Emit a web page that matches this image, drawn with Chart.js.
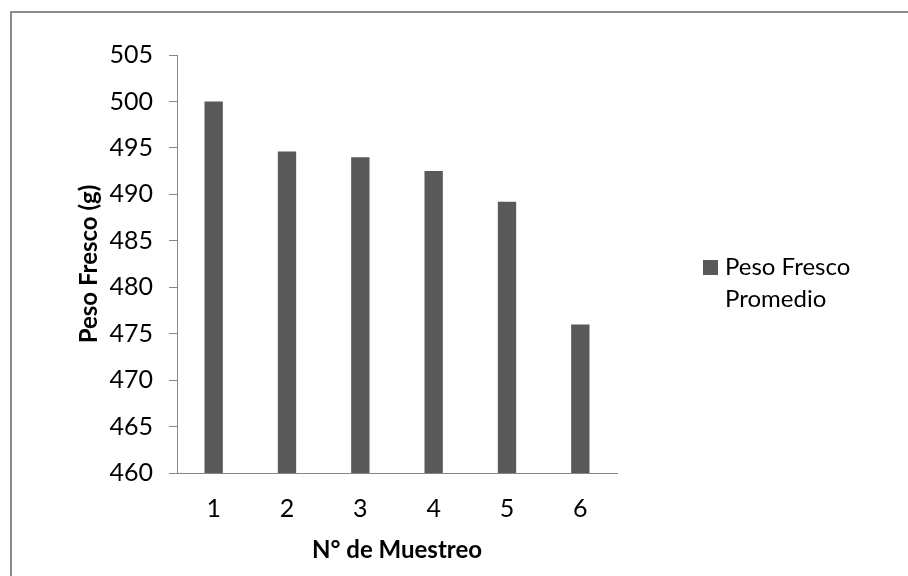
<!DOCTYPE html>
<html>
<head>
<meta charset="utf-8">
<script src="https://cdn.jsdelivr.net/npm/chart.js@4.4.1/dist/chart.umd.min.js"></script>
<style>
  html, body { margin: 0; padding: 0; background: #ffffff; }
  #wrap { width: 908px; height: 576px; position: relative; }
</style>
</head>
<body>
<div id="wrap"><canvas id="grafico" width="908" height="576"></canvas></div>
<script>
// Datos: peso fresco promedio por número de muestreo
const muestreos = ['1', '2', '3', '4', '5', '6'];
const pesoFresco = [500.0, 494.6, 494.0, 492.5, 489.2, 476.0];
const marcasY = [460, 465, 470, 475, 480, 485, 490, 495, 500, 505];
const nombreSerie = 'Peso Fresco Promedio';
const tituloX = 'N° de Muestreo';
const tituloY = 'Peso Fresco (g)';

const colorBarra = '#595959';
const colorEje = '#868686';
const fuente = 'Lato, "Open Sans", "Liberation Sans", sans-serif';

// Marco exterior del gráfico
const marco = {
  id: 'marco',
  beforeDraw(chart) {
    const ctx = chart.ctx;
    ctx.save();
    ctx.fillStyle = '#ffffff';
    ctx.fillRect(0, 0, chart.width, chart.height);
    ctx.strokeStyle = '#8c8c8c';
    ctx.lineWidth = 2;
    ctx.strokeRect(11, 12, 1200, 1200);
    ctx.restore();
  }
};

// Leyenda a la derecha, con el nombre de la serie partido en líneas
const leyenda = {
  id: 'leyenda',
  afterDraw(chart) {
    const ctx = chart.ctx;
    const ds = chart.data.datasets[0];
    ctx.save();
    ctx.font = '24px ' + fuente;
    const palabras = ds.label.split(' ');
    const lineas = [];
    let actual = '';
    palabras.forEach(p => {
      const prueba = actual ? actual + ' ' + p : p;
      if (actual && ctx.measureText(prueba).width > 150) {
        lineas.push(actual);
        actual = p;
      } else {
        actual = prueba;
      }
    });
    if (actual) lineas.push(actual);
    ctx.fillStyle = ds.backgroundColor;
    ctx.fillRect(703, 260, 15, 15);
    ctx.fillStyle = '#000000';
    ctx.textBaseline = 'alphabetic';
    ctx.textAlign = 'left';
    lineas.forEach((l, i) => ctx.fillText(l, 725, 275 + i * 31.5));
    ctx.restore();
  }
};

new Chart(document.getElementById('grafico'), {
  type: 'bar',
  data: {
    labels: muestreos,
    datasets: [{
      label: nombreSerie,
      data: pesoFresco,
      backgroundColor: colorBarra,
      borderWidth: 0,
      barPercentage: 0.25,
      categoryPercentage: 1.0
    }]
  },
  options: {
    responsive: false,
    devicePixelRatio: 1,
    animation: false,
    layout: { padding: { top: 55, right: 291, bottom: 0, left: 0 } },
    plugins: {
      legend: { display: false },
      tooltip: { enabled: false },
      title: { display: false }
    },
    scales: {
      x: {
        grid: { display: false, drawTicks: false },
        border: { display: true, color: colorEje, width: 1 },
        ticks: {
          color: '#000000',
          font: { family: fuente, size: 25 },
          padding: 21,
          maxRotation: 0
        },
        title: {
          display: true,
          text: tituloX,
          color: '#000000',
          font: { family: fuente, size: 24, weight: 'bold' },
          padding: { top: 0, bottom: 11 }
        },
        afterFit(s) { s.height = 103; }
      },
      y: {
        min: 460,
        max: 505,
        grid: {
          display: true,
          drawOnChartArea: false,
          drawTicks: true,
          tickLength: 8,
          color: colorEje
        },
        border: { display: true, color: colorEje, width: 1 },
        ticks: {
          color: '#000000',
          font: { family: fuente, size: 25 },
          padding: 16
        },
        afterBuildTicks(s) { s.ticks = marcasY.map(v => ({ value: v })); },
        title: {
          display: true,
          text: tituloY,
          color: '#000000',
          font: { family: fuente, size: 24, weight: 'bold' },
          padding: { top: 75, bottom: 0 }
        },
        afterFit(s) { s.width = 177; }
      }
    }
  },
  plugins: [marco, leyenda]
});
</script>
</body>
</html>
